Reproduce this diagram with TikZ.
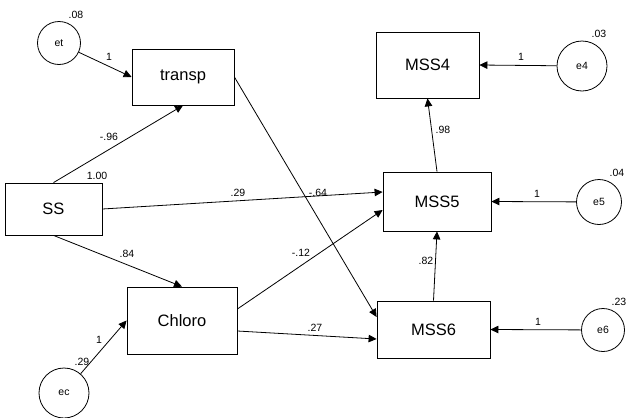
\documentclass[tikz,border=0pt]{standalone}
\usepackage{fontspec}
\setmainfont{Liberation Sans}
\usetikzlibrary{arrows.meta}
\begin{document}
\begin{tikzpicture}[x=1pt,y=-1pt,
  obs/.style={draw, line width=0.8pt, inner sep=0pt, font=\fontsize{16.5}{18}\selectfont},
  err/.style={draw, circle, line width=0.8pt, inner sep=0pt, font=\fontsize{10.5}{12}\selectfont},
  coef/.style={inner sep=0pt, font=\fontsize{10.5}{12}\selectfont},
  path/.style={line width=0.8pt, -{Triangle[length=8pt,width=7.5pt]}}]
\useasboundingbox (0,0) rectangle (630,418);

% observed variables
\node[obs, minimum width=102pt, minimum height=56pt] (transp) at (183,77) {transp};
\node[obs, minimum width=97pt,  minimum height=52pt] (SS)     at (53.5,209) {SS};
\node[obs, minimum width=110pt, minimum height=67pt] (Chloro) at (182,320.5) {Chloro};
\node[obs, minimum width=103pt, minimum height=66pt] (MSS4)   at (427.5,65) {MSS4};
\node[obs, minimum width=108pt, minimum height=59pt] (MSS5)   at (437,201.5) {MSS5};
\node[obs, minimum width=113pt, minimum height=57pt] (MSS6)   at (433.5,329.5) {MSS6};

% error terms
\node[err, minimum size=43pt] (et) at (59,43) {et};
\node[err, minimum size=50pt] (ec) at (64,393) {ec};
\node[err, minimum size=50pt] (e4) at (582,66) {e4};
\node[err, minimum size=45pt] (e5) at (599,202) {e5};
\node[err, minimum size=43pt] (e6) at (603,330) {e6};

% paths (yshift is in page units: positive moves up)
\draw[path] (et) -- (transp.west);
\draw[path] (SS.north) -- (transp.south);
\draw[path] (SS.east) -- ([yshift=9.5pt]MSS5.west);
\draw[path] (SS.south) -- (Chloro.north);
\draw[path] (transp.east) -- ([yshift=12.5pt]MSS6.west);
\draw[path] ([yshift=11.5pt]Chloro.east) -- ([yshift=-8.5pt]MSS5.west);
\draw[path] ([yshift=-10.5pt]Chloro.east) -- ([yshift=-9.5pt]MSS6.west);
\draw[path] (ec) -- (Chloro.west);
\draw[path] (MSS6.north) -- (MSS5.south);
\draw[path] (MSS5.north) -- (MSS4.south);
\draw[path] (e4) -- (MSS4.east);
\draw[path] (e5) -- (MSS5.east);
\draw[path] (e6) -- (MSS6.east);

% variances
\node[coef] (vet) at (76,15)   {.08};
\node[coef] (vss) at (97,176)  {1.00};
\node[coef] (vec) at (82,362)  {.29};
\node[coef] (ve4) at (599,34)  {.03};
\node[coef] (ve5) at (617,173) {.04};
\node[coef] (ve6) at (619,302) {.23};

% path coefficients
\node[coef] (cet)  at (109,57)  {1};
\node[coef] (cst)  at (109,137) {-.96};
\node[coef] (cs5)  at (238,193) {.29};
\node[coef] (ct6)  at (318,193) {-.64};
\node[coef] (csc)  at (127,254) {.84};
\node[coef] (cc5)  at (301,253) {-.12};
\node[coef] (cc6)  at (315,328) {.27};
\node[coef] (cec)  at (99,340)  {1};
\node[coef] (c54)  at (443,130) {.98};
\node[coef] (c65)  at (426,261) {.82};
\node[coef] (ce4)  at (521,57)  {1};
\node[coef] (ce5)  at (537,194) {1};
\node[coef] (ce6)  at (538,322) {1};
\end{tikzpicture}
\end{document}
